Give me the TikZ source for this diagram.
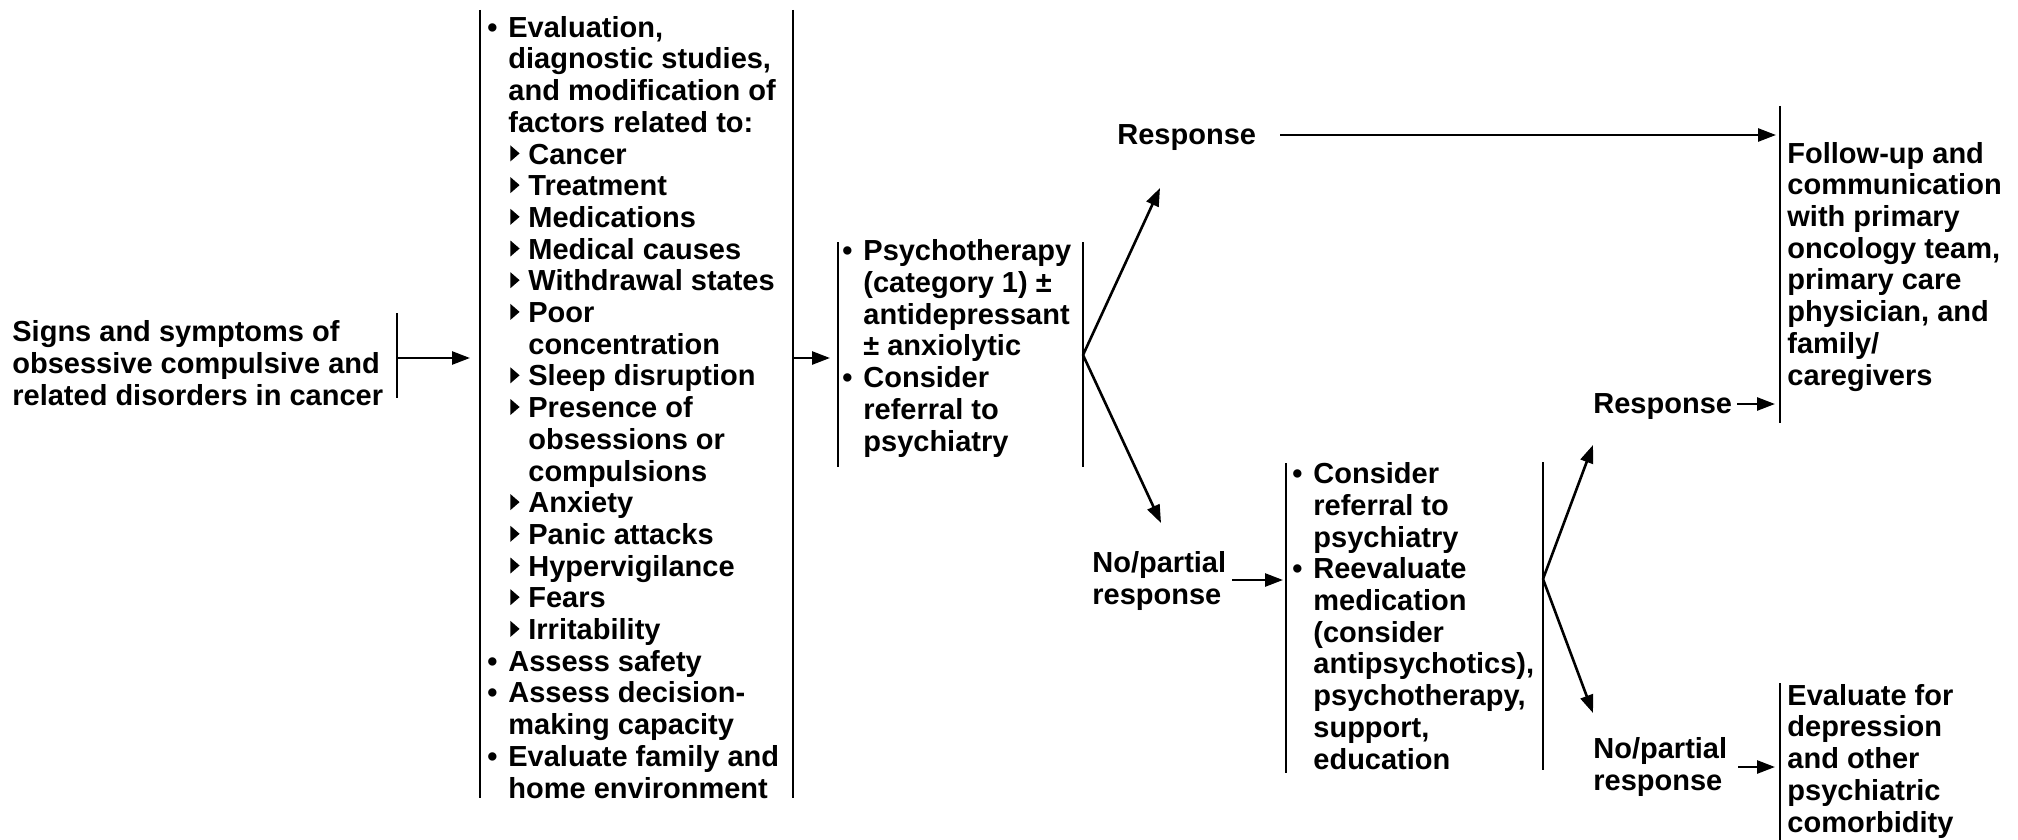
\documentclass[tikz,border=0pt]{standalone}
\usepackage{fontspec}
\setmainfont{Liberation Sans}
\usetikzlibrary{arrows.meta}
\newcommand\bul{\makebox[10.5pt][l]{•}}
\newcommand\ind{\hspace*{10.5pt}}
\newcommand\tri{\raisebox{1.3pt}{\tikz[x=1pt,y=1pt]\fill (0,0)--(4.6,4)--(0,8)--cycle;}}
\newcommand\subb{\hspace*{11.5pt}\makebox[9pt][l]{\tri}}
\newcommand\subind{\hspace*{20.5pt}}
\tikzset{
  txt/.style={font=\fontsize{14.5}{15.85}\selectfont\bfseries, align=left, inner sep=0pt, anchor=base west},
  bar/.style={line width=1.4pt},
  arr/.style={line width=1.3pt, -{Triangle[length=9pt,width=6.5pt]}},
}
\begin{document}
\begin{tikzpicture}[x=0.5pt,y=-0.5pt]
\path[use as bounding box, fill=white] (0,0) rectangle (2018,840);

% texts (anchored at the baseline of their last line)
\node[txt] (signs) at (12,405) {Signs and symptoms of\\obsessive compulsive and\\related disorders in cancer};
\node[txt] (eval) at (487,798) {\bul Evaluation,\\\ind diagnostic studies,\\\ind and modification of\\\ind factors related to:\\\subb Cancer\\\subb Treatment\\\subb Medications\\\subb Medical causes\\\subb Withdrawal states\\\subb Poor\\\subind concentration\\\subb Sleep disruption\\\subb Presence of\\\subind obsessions or\\\subind compulsions\\\subb Anxiety\\\subb Panic attacks\\\subb Hypervigilance\\\subb Fears\\\subb Irritability\\\bul Assess safety\\\bul Assess decision-\\\ind making capacity\\\bul Evaluate family and\\\ind home environment};
\node[txt] (psy) at (842,451) {\bul Psychotherapy\\\ind (category 1) ±\\\ind antidepressant\\\ind ± anxiolytic\\\bul Consider\\\ind referral to\\\ind psychiatry};
\node[txt] (resp1) at (1117,145) {Response};
\node[txt] (nop1) at (1092,604) {No/partial\\response};
\node[txt] (reeval) at (1292,769) {\bul Consider\\\ind referral to\\\ind psychiatry\\\bul Reevaluate\\\ind medication\\\ind (consider\\\ind antipsychotics),\\\ind psychotherapy,\\\ind support,\\\ind education};
\node[txt] (resp2) at (1593,413) {Response};
\node[txt] (nop2) at (1593,790) {No/partial\\response};
\node[txt] (follow) at (1787,385) {Follow-up and\\communication\\with primary\\oncology team,\\primary care\\physician, and\\family/\\caregivers};
\node[txt] (evdep) at (1787,832) {Evaluate for\\depression\\and other\\psychiatric\\comorbidity};

% bracket lines
\draw[bar] (397,313) -- (397,398);
\draw[bar] (480,10) -- (480,798);
\draw[bar] (793,10) -- (793,798);
\draw[bar] (838,242) -- (838,467);
\draw[bar] (1083,242) -- (1083,467);
\draw[bar] (1286,463) -- (1286,773);
\draw[bar] (1543,462) -- (1543,770);
\draw[bar] (1780,106) -- (1780,423);
\draw[bar] (1780,683) -- (1780,840);

% connector end points
\coordinate (c1a) at (397,358);  \coordinate (c1b) at (470,358);
\coordinate (c2a) at (793,358);  \coordinate (c2b) at (830,358);
\coordinate (f1) at (1083,355);  \coordinate (t1) at (1160,188); \coordinate (t2) at (1161,523);
\coordinate (r1a) at (1280,135); \coordinate (r1b) at (1776,135);
\coordinate (n1a) at (1232,580); \coordinate (n1b) at (1283,580);
\coordinate (f2) at (1543,579);  \coordinate (t3) at (1593,445); \coordinate (t4) at (1593,713);
\coordinate (r2a) at (1737,404); \coordinate (r2b) at (1775,404);
\coordinate (n2a) at (1738,767); \coordinate (n2b) at (1775,767);

\draw[arr] (c1a) -- (c1b);
\draw[arr] (c2a) -- (c2b);
\draw[arr] (f1) -- (t1);
\draw[arr] (f1) -- (t2);
\draw[arr] (r1a) -- (r1b);
\draw[arr] (n1a) -- (n1b);
\draw[arr] (f2) -- (t3);
\draw[arr] (f2) -- (t4);
\draw[arr] (r2a) -- (r2b);
\draw[arr] (n2a) -- (n2b);
\end{tikzpicture}
\end{document}
